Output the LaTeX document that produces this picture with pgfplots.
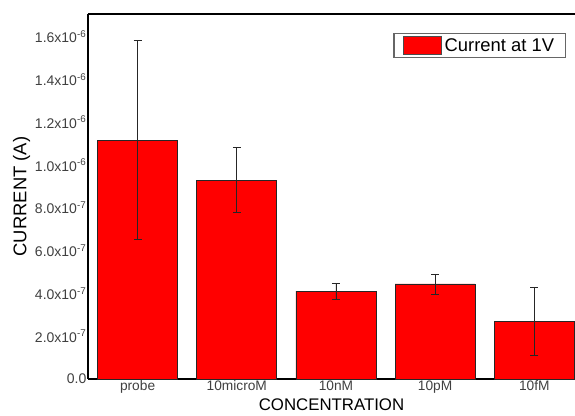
\documentclass[border=0pt]{standalone}
\usepackage{pgfplots}
\pgfplotsset{compat=1.18}
\usepackage{fontspec}
\setmainfont{Liberation Sans}
\begin{document}
\begin{tikzpicture}
\begin{axis}[
  name=ax,
  scale only axis,
  width=365.25pt, height=273.75pt,
  xmin=-0.5, xmax=4.41,
  ymin=0, ymax=1.706e-6,
  axis x line*=bottom,
  axis y line*=left,
  axis line style={black, line width=1.2pt},
  xtick={0,1,2,3,4},
  xticklabels={probe,10microM,10nM,10pM,10fM},
  xtick style={draw=none},
  ytick={0,2e-7,4e-7,6e-7,8e-7,1e-6,1.2e-6,1.4e-6,1.6e-6},
  yticklabels={0.0,
    2.0x10\textsuperscript{-7},
    4.0x10\textsuperscript{-7},
    6.0x10\textsuperscript{-7},
    8.0x10\textsuperscript{-7},
    1.0x10\textsuperscript{-6},
    1.2x10\textsuperscript{-6},
    1.4x10\textsuperscript{-6},
    1.6x10\textsuperscript{-6}},
  ytick style={draw=none},
  scaled y ticks=false,
  yticklabel style={font=\fontsize{10.5}{12}\selectfont, color=black!75, inner xsep=1pt},
  xticklabel style={font=\fontsize{10.3}{12}\selectfont, color=black!75, yshift=2pt},
  xlabel={CONCENTRATION},
  ylabel={CURRENT (A)},
  xlabel style={font=\fontsize{12.6}{14}\selectfont, yshift=3pt},
  ylabel style={font=\fontsize{13.8}{15}\selectfont, yshift=-1pt},
  legend style={at={(0.9815,0.948)}, anchor=north east, draw=black!60, line width=0.9pt,
    font=\fontsize{13.8}{15}\selectfont, inner xsep=6.5pt, inner ysep=1.5pt},
  legend image code/.code={\draw[fill=red, draw=black!70, line width=0.5pt] (0pt,-6.75pt) rectangle (29pt,6.75pt);},
  clip=false,
]
\addplot[ybar, bar width=60pt, fill=red, draw=black!85, line width=0.6pt,
  error bars/.cd, y dir=both, y explicit,
  error bar style={black!85, line width=0.6pt},
  error mark options={rotate=90, mark size=3pt, black!85, line width=0.6pt}]
  coordinates {
  (0,1.117e-6) +- (0,4.65e-7)
  (1,9.30e-7) +- (0,1.52e-7)
  (2,4.11e-7) +- (0,3.8e-8)
  (3,4.44e-7) +- (0,4.7e-8)
  (4,2.71e-7) +- (0,1.59e-7)
  };
\addlegendentry{Current at 1V\hspace{3pt}}
\draw[black, line width=1.2pt] (rel axis cs:0,1) -- (rel axis cs:1.02,1);
\end{axis}
\pgfresetboundingbox
\path[use as bounding box] ([xshift=-66pt,yshift=-27.75pt]ax.south west) rectangle ([yshift=10.5pt]ax.north east);
\end{tikzpicture}
\end{document}
